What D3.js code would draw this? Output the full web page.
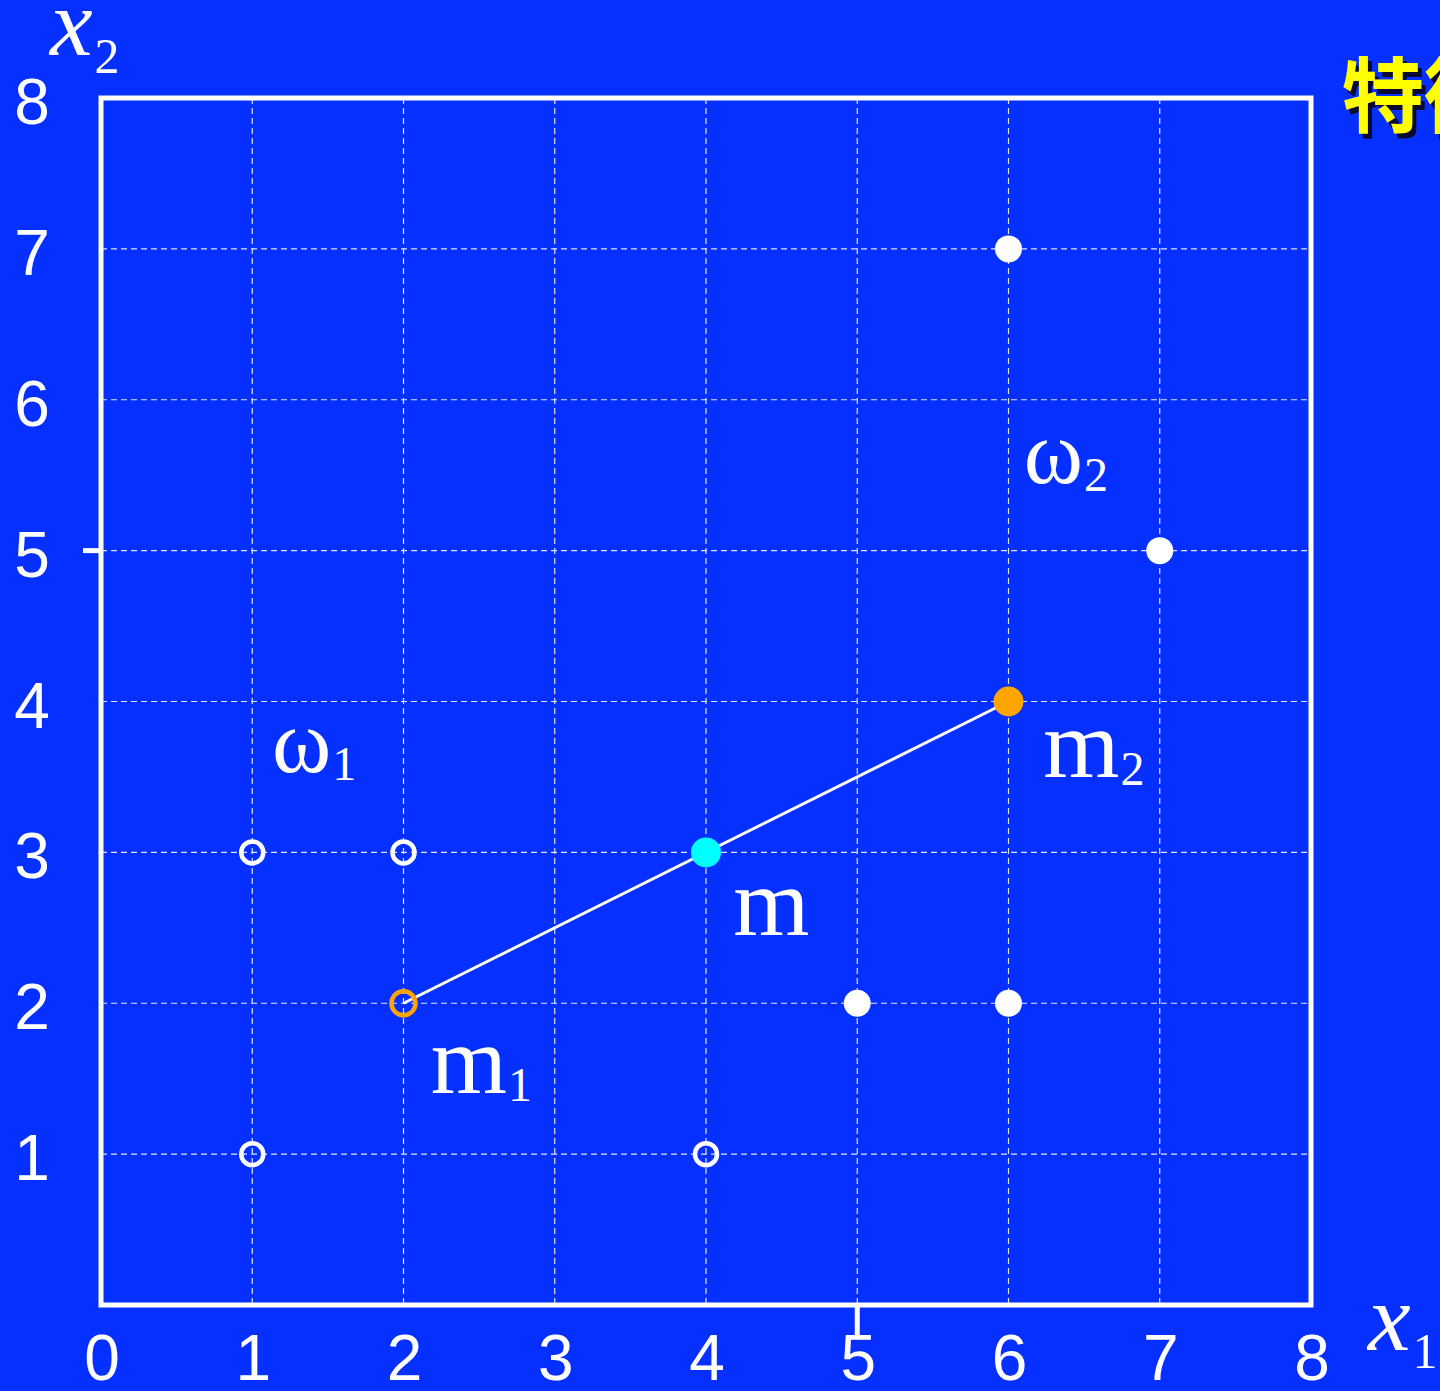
<!DOCTYPE html>
<html><head><meta charset="utf-8">
<script src="https://cdn.jsdelivr.net/npm/d3@7"></script>
<style>html,body{margin:0;padding:0;background:#0530ff;overflow:hidden}</style>
</head><body>
<svg id="c" width="1440" height="1391"></svg>
<script>
const xTicks = [0,1,2,3,4,5,6,7,8];
const yTicks = [1,2,3,4,5,6,7,8];
const gridX = [1,2,3,4,5,6,7];
const gridY = [1,2,3,4,5,6,7];
const class1 = [[1,3],[2,3],[1,1],[4,1]];
const class2 = [[6,7],[7,5],[5,2],[6,2]];
const m1 = [2,2], m2 = [6,4], mAll = [4,3];
const labels = [
  {t:"ω", s:"1", p:[1.13,3.53]},
  {t:"ω", s:"2", p:[6.1,5.45]},
  {t:"m", s:"1", p:[2.18,1.405]},
  {t:"m", s:"",  p:[4.18,2.45]},
  {t:"m", s:"2", p:[6.23,3.5]}
];

const svg = d3.select("#c");
const x = d3.scaleLinear().domain([0,8]).range([101,1311]);
const y = d3.scaleLinear().domain([0,8]).range([1305,98]);

svg.append("rect").attr("width",1440).attr("height",1391).attr("fill","#0530ff");

// grid
const g = svg.append("g").attr("stroke","#dfe4ff").attr("stroke-width",1.2).attr("stroke-dasharray","6,4");
g.selectAll(".gx").data(gridX).join("line")
  .attr("x1",d=>x(d)).attr("x2",d=>x(d)).attr("y1",y(8)).attr("y2",y(0));
g.selectAll(".gy").data(gridY).join("line")
  .attr("y1",d=>y(d)).attr("y2",d=>y(d)).attr("x1",x(0)).attr("x2",x(8));

// frame
svg.append("rect").attr("x",x(0)).attr("y",y(8)).attr("width",x(8)-x(0)).attr("height",y(0)-y(8))
  .attr("fill","none").attr("stroke","white").attr("stroke-width",5);
// odd ticks
svg.append("line").attr("x1",x(0)-18).attr("x2",x(0)).attr("y1",y(5)).attr("y2",y(5)).attr("stroke","white").attr("stroke-width",5);
svg.append("line").attr("x1",x(5)).attr("x2",x(5)).attr("y1",y(0)).attr("y2",y(0)+30).attr("stroke","white").attr("stroke-width",5);

// tick labels
const tf = "'Liberation Sans', Arial, sans-serif";
svg.selectAll(".xl").data(xTicks).join("text")
  .attr("x",d=>x(d)+1).attr("y",1380).attr("text-anchor","middle")
  .attr("font-family",tf).attr("font-size",64).attr("fill","white").text(d=>d);
svg.selectAll(".yl").data(yTicks).join("text")
  .attr("x",32).attr("y",d=>y(d)+26).attr("text-anchor","middle")
  .attr("font-family",tf).attr("font-size",64).attr("fill","white").text(d=>d);

// axis labels
const serif = "'Liberation Serif','Times New Roman',serif";
const ax2 = svg.append("text").attr("x",50).attr("y",55).attr("font-family",serif).attr("fill","white");
ax2.append("tspan").attr("font-style","italic").attr("font-size",96).text("x");
ax2.append("tspan").attr("font-size",50).attr("dy",18).attr("dx",2).text("2");
const ax1 = svg.append("text").attr("x",1368).attr("y",1350).attr("font-family",serif).attr("fill","white");
ax1.append("tspan").attr("font-style","italic").attr("font-size",96).text("x");
ax1.append("tspan").attr("font-size",50).attr("dy",18).attr("dx",2).text("1");

// line m1-m2
svg.append("line").attr("x1",x(m1[0])).attr("y1",y(m1[1])).attr("x2",x(m2[0])).attr("y2",y(m2[1]))
  .attr("stroke","white").attr("stroke-width",3);

// class 1 open circles
svg.selectAll(".c1").data(class1).join("circle")
  .attr("cx",d=>x(d[0])).attr("cy",d=>y(d[1])).attr("r",11)
  .attr("fill","none").attr("stroke","white").attr("stroke-width",4.5);
// class 2 filled
svg.selectAll(".c2").data(class2).join("circle")
  .attr("cx",d=>x(d[0])).attr("cy",d=>y(d[1])).attr("r",13.5).attr("fill","white");
// means
svg.append("circle").attr("cx",x(m1[0])).attr("cy",y(m1[1])).attr("r",12)
  .attr("fill","none").attr("stroke","#ffa500").attr("stroke-width",4.5);
svg.append("circle").attr("cx",x(m2[0])).attr("cy",y(m2[1])).attr("r",15).attr("fill","#ffa500");
svg.append("circle").attr("cx",x(mAll[0])).attr("cy",y(mAll[1])).attr("r",15).attr("fill","#00ffff");

// text labels
labels.forEach(l=>{
  const t = svg.append("text").attr("x",x(l.p[0])).attr("y",y(l.p[1])).attr("font-family",serif).attr("fill","white");
  t.append("tspan").attr("font-size", l.t==="ω"?90:98).text(l.t);
  if (l.s) t.append("tspan").attr("font-size",48).attr("dy",8).attr("dx",1).text(l.s);
});

// title fragment
const title = "特徴";
svg.append("text").attr("x",1342).attr("y",126).attr("font-family","'Noto Sans CJK JP',sans-serif").attr("font-weight",700)
  .attr("font-size",82).attr("fill","#0a0a30").text(title).attr("transform","translate(4,5)");
svg.append("text").attr("x",1342).attr("y",126).attr("font-family","'Noto Sans CJK JP',sans-serif").attr("font-weight",700)
  .attr("font-size",82).attr("fill","#ffff00").text(title);
</script>
</body></html>
